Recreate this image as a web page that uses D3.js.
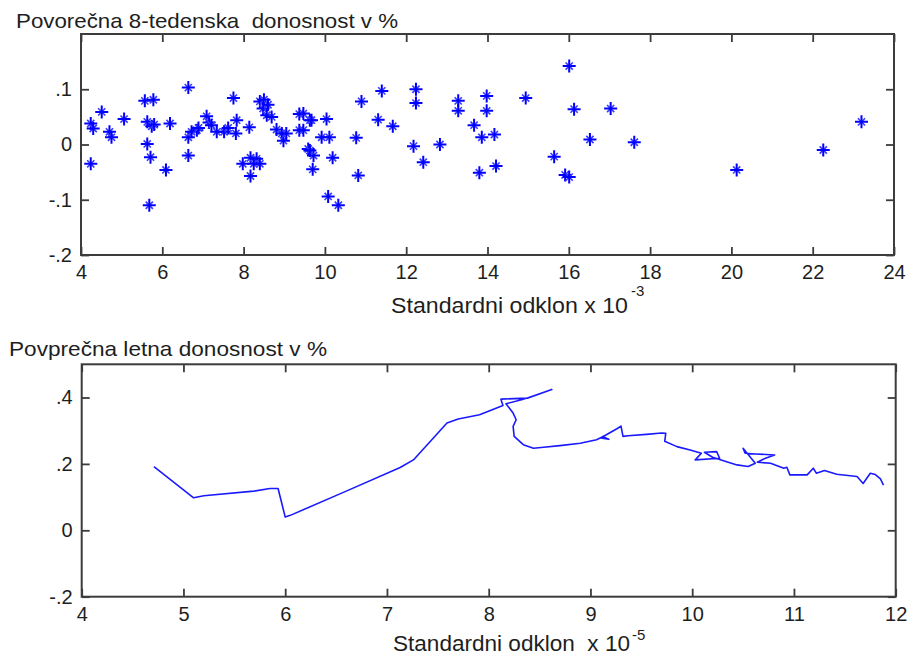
<!DOCTYPE html>
<html>
<head>
<meta charset="utf-8">
<script src="https://cdn.jsdelivr.net/npm/d3@7"></script>
<style>
  html, body { margin: 0; padding: 0; background: #ffffff; }
  svg { display: block; }
  text { font-family: "Liberation Sans", Arial, Helvetica, sans-serif; fill: #1e1e1e; white-space: pre; }
</style>
</head>
<body>
<svg id="chart" width="909" height="659"></svg>
<script>
// ---- Top panel: 8-week average return vs. standard deviation (x 10^-3) ----
const scatterStd = [
  4.24, 4.30, 4.24, 4.51, 4.70, 4.75, 5.06, 5.57, 5.78, 5.63, 5.74, 5.80, 5.63, 5.71, 5.68,
  6.09, 6.19, 6.64, 6.64, 6.64, 6.72, 6.85, 6.89, 7.09, 7.15, 7.21, 7.34, 7.52, 7.62, 7.75,
  7.83, 7.81, 8.14, 7.98, 8.17, 8.32, 8.40, 8.25, 8.17, 8.40, 8.50, 8.48, 8.57, 8.60, 8.69,
  8.81, 8.94, 8.98, 9.05, 9.37, 9.47, 9.37, 9.47, 9.63, 9.67, 9.59, 9.72, 9.63, 9.70, 9.92,
  10.11, 10.04, 10.19, 10.08, 10.33, 10.90, 10.77, 10.82, 11.40, 11.31, 11.67, 12.24, 12.24,
  12.18, 12.42, 12.83, 13.28, 13.28, 13.98, 13.98, 13.67, 13.86, 14.17, 13.80, 14.21, 14.94,
  16.01, 16.13, 16.52, 15.64, 15.91, 16.01, 17.03, 17.61, 20.13, 22.26, 23.20
];
const scatterReturn = [
  0.038, 0.029, -0.035, 0.059, 0.023, 0.013, 0.046, 0.079, 0.081, 0.041, 0.033, 0.036, 0.001, -0.023, -0.110,
  -0.046, 0.038, 0.103, 0.013, -0.020, 0.023, 0.026, 0.030, 0.051, 0.040, 0.035, 0.023, 0.023, 0.030, 0.084,
  0.044, 0.020, 0.031, -0.035, -0.024, -0.026, -0.035, -0.035, -0.057, 0.078, 0.081, 0.065, 0.053, 0.072, 0.050,
  0.027, 0.020, 0.007, 0.020, 0.055, 0.056, 0.026, 0.026, 0.044, 0.044, -0.008, -0.020, -0.011, -0.045, 0.013,
  0.013, 0.046, -0.024, -0.094, -0.110, 0.078, 0.012, -0.056, 0.097, 0.045, 0.033, 0.100, 0.075,
  -0.003, -0.032, 0.000, 0.079, 0.061, 0.088, 0.061, 0.035, 0.013, 0.018, -0.051, -0.039, 0.084,
  0.142, 0.064, 0.009, -0.022, -0.055, -0.059, 0.065, 0.004, -0.046, -0.010, 0.041
];
const topXTicks = [4, 6, 8, 10, 12, 14, 16, 18, 20, 22, 24];
const topYTicks = [-0.2, -0.1, 0, 0.1];

// ---- Bottom panel: average annual return vs. standard deviation (x 10^-5) ----
const pathStd = [
  4.71, 5.10, 5.20, 5.69, 5.85, 5.93, 6.00, 6.05, 6.60, 7.13, 7.26, 7.59, 7.70, 7.91, 8.14,
  8.12, 8.38, 8.62, 8.36, 8.17, 8.24, 8.27, 8.24, 8.25, 8.34, 8.44, 8.54, 8.70, 8.90, 9.06,
  9.12, 9.18, 9.10, 9.26, 9.30, 9.32, 9.37, 9.55, 9.70, 9.74, 9.73, 9.85, 9.98, 10.09, 10.03,
  10.27, 10.24, 10.12, 10.20, 10.30, 10.44, 10.55, 10.62, 10.50, 10.52, 10.62, 10.81, 10.72,
  10.64, 10.77, 10.90, 10.93, 10.96, 11.13, 11.19, 11.22, 11.30, 11.42, 11.62, 11.68, 11.75,
  11.80, 11.85, 11.88
];
const pathReturn = [
  0.192, 0.098, 0.104, 0.118, 0.126, 0.126, 0.040, 0.045, 0.118, 0.189, 0.212, 0.323, 0.335, 0.348, 0.376,
  0.395, 0.398, 0.424, 0.396, 0.381, 0.353, 0.333, 0.313, 0.283, 0.258, 0.247, 0.250, 0.255, 0.262, 0.273,
  0.282, 0.274, 0.278, 0.306, 0.314, 0.283, 0.285, 0.289, 0.293, 0.292, 0.268, 0.252, 0.242, 0.232, 0.212,
  0.217, 0.237, 0.235, 0.220, 0.210, 0.197, 0.192, 0.202, 0.247, 0.232, 0.230, 0.227, 0.217,
  0.205, 0.202, 0.187, 0.190, 0.167, 0.167, 0.187, 0.172, 0.180, 0.169, 0.162, 0.141, 0.172,
  0.168, 0.155, 0.136
];
const botXTicks = [4, 5, 6, 7, 8, 9, 10, 11, 12];
const botYTicks = [-0.2, 0, 0.2, 0.4];

const svg = d3.select("#chart");
const axisColor = "#3c3c3c";
const markColor = "#0000ff";

// ".1" / "-.1" style tick labels with a plain hyphen as minus
const fmtY = d => d === 0 ? "0" : d3.format(".1f")(d).replace("\u2212", "-").replace("0.", ".");

function frame(g, x, y, xTicks, yTicks) {
  const [x0, x1] = x.range();
  const [y0, y1] = y.range();
  g.append("g").attr("transform", `translate(0,${y0})`)
    .call(d3.axisBottom(x).tickValues(xTicks).tickSize(-8).tickPadding(10).tickFormat(d3.format("d")));
  g.append("g").attr("transform", `translate(0,${y1})`)
    .call(d3.axisTop(x).tickValues(xTicks).tickSize(-8).tickFormat(""));
  g.append("g").attr("transform", `translate(${x0},0)`)
    .call(d3.axisLeft(y).tickValues(yTicks).tickSize(-8).tickPadding(9).tickFormat(fmtY));
  g.append("g").attr("transform", `translate(${x1},0)`)
    .call(d3.axisRight(y).tickValues(yTicks).tickSize(-8).tickFormat(""));
  g.selectAll(".domain").remove();
  g.selectAll(".tick line").attr("stroke", axisColor).attr("stroke-width", 1.8);
  g.selectAll(".tick text").attr("font-size", 20).attr("fill", "#1e1e1e")
    .attr("font-family", "Liberation Sans, Arial, sans-serif");
  g.append("rect")
    .attr("x", x0).attr("y", y1).attr("width", x1 - x0).attr("height", y0 - y1)
    .attr("fill", "none").attr("stroke", axisColor).attr("stroke-width", 2);
}

function label(txt, x, y, size, len) {
  svg.append("text").attr("x", x).attr("y", y).attr("font-size", size)
    .attr("textLength", len).attr("lengthAdjust", "spacingAndGlyphs").text(txt);
}

// ---------------- top panel ----------------
const xTop = d3.scaleLinear().domain([4, 24]).range([81, 894]);
const yTop = d3.scaleLinear().domain([-0.2, 0.2]).range([255, 34]);
const gTop = svg.append("g");
frame(gTop, xTop, yTop, topXTicks, topYTicks);

const star = "M0,-6.5V6.5M-6.5,0H6.5";
const starDiag = "M-3.6,-3.6L3.6,3.6M-3.6,3.6L3.6,-3.6";
const pts = gTop.append("g").selectAll("g").data(scatterStd.map((s, i) => [s, scatterReturn[i]]))
  .join("g").attr("transform", d => `translate(${xTop(d[0])},${yTop(d[1])})`);
pts.append("path").attr("d", starDiag).attr("stroke", "#3a3aff").attr("stroke-width", 1.6).attr("fill", "none");
pts.append("path").attr("d", star).attr("stroke", markColor).attr("stroke-width", 2).attr("fill", "none");

label("Povorečna 8-tedenska  donosnost v %", 16, 28, 21, 382);
label("Standardni odklon x 10", 391, 313, 22, 237);
svg.append("text").attr("x", 631).attr("y", 296).attr("font-size", 15).text("-3");

// ---------------- bottom panel ----------------
const xBot = d3.scaleLinear().domain([4, 12]).range([81.7, 895.7]);
const yBot = d3.scaleLinear().domain([-0.2, 0.5]).range([596.7, 364.3]);
const gBot = svg.append("g");
frame(gBot, xBot, yBot, botXTicks, botYTicks);

const line = d3.line().x(d => xBot(d[0])).y(d => yBot(d[1]));
gBot.append("path")
  .datum(pathStd.map((s, i) => [s, pathReturn[i]]))
  .attr("d", line).attr("fill", "none").attr("stroke", "#1a1aff")
  .attr("stroke-width", 1.6).attr("stroke-linejoin", "round");

label("Povprečna letna donosnost v %", 9, 356, 21, 318);
label("Standardni odklon  x 10", 393, 651, 22, 237);
svg.append("text").attr("x", 632).attr("y", 640).attr("font-size", 15).text("-5");
</script>
</body>
</html>
